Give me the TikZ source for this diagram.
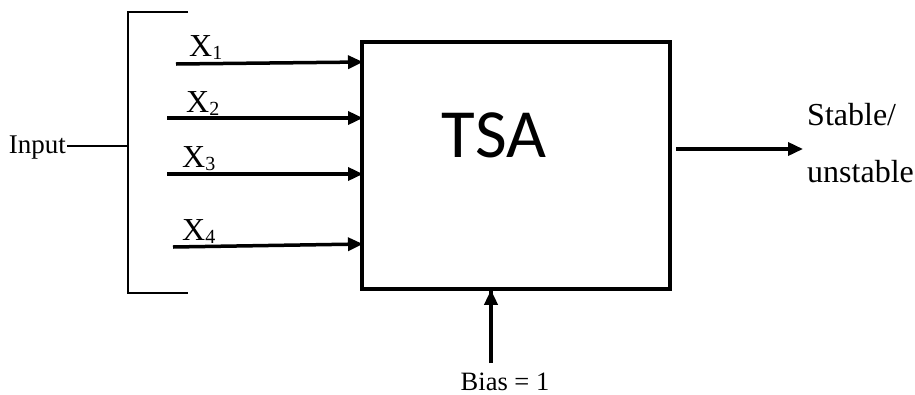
\documentclass[tikz,border=0pt]{standalone}
\usepackage{fontspec}
\setmainfont{Liberation Serif}
\newfontfamily\tsafont{Carlito}
\usetikzlibrary{arrows.meta}
\tikzset{
  arr/.style={line width=3.5pt, -{Triangle[length=15pt,width=13pt]}},
  thin/.style={line width=1.5pt},
  lbl/.style={inner sep=0pt, anchor=base west, font=\fontsize{32}{36}\selectfont},
  small/.style={inner sep=0pt, font=\fontsize{27}{30}\selectfont},
}
\newcommand{\xsub}[1]{X\raisebox{-3pt}{\fontsize{20}{20}\selectfont #1}}
\begin{document}
\begin{tikzpicture}[x=1pt,y=-1pt]
\useasboundingbox (0,0) rectangle (915,394);
% main box
\node[draw, line width=3.5pt, minimum width=308pt, minimum height=247pt, inner sep=0pt] (tsa) at (516,165.5) {};
\node[inner sep=0pt, anchor=base, font=\tsafont\fontsize{69}{72}\selectfont] (tsalbl) at (494,157) {TSA};
% bracket
\coordinate (btop) at (188,12);
\coordinate (bbot) at (188,293);
\coordinate (bmid) at (128,146);
\draw[thin] (btop) -- (128,12) -- (128,293) -- (bbot);
\node[small, anchor=base east] (input) at (66,153) {Input};
\draw[thin] (input.east |- bmid) ++(1,0) -- (bmid);
% inputs
\coordinate (x1s) at (176,64);  \coordinate (x1e) at (363,62);
\coordinate (x2s) at (167,118); \coordinate (x2e) at (363,118);
\coordinate (x3s) at (167,174); \coordinate (x3e) at (363,174);
\coordinate (x4s) at (173,247); \coordinate (x4e) at (363,244);
\draw[arr] (x1s) -- (x1e);
\draw[arr] (x2s) -- (x2e);
\draw[arr] (x3s) -- (x3e);
\draw[arr] (x4s) -- (x4e);
\node[lbl] (l1) at (189,56) {\xsub{1}};
\node[lbl] (l2) at (186,112) {\xsub{2}};
\node[lbl] (l3) at (182,167) {\xsub{3}};
\node[lbl] (l4) at (182,240) {\xsub{4}};
% output
\coordinate (outs) at (676,149);
\node[lbl, font=\fontsize{32}{36}\selectfont] (st1) at (807,125) {Stable/};
\node[lbl, font=\fontsize{32}{36}\selectfont] (st2) at (807,182) {unstable};
\draw[arr] (outs) -- (803,149) coordinate (oute);
% bias
\node[small, anchor=base, font=\fontsize{26.5}{30}\selectfont] (bias) at (505,390) {Bias = 1};
\coordinate (bs) at (491,363);
\draw[arr] (bs) -- (bs |- tsa.south) ++(0,-1);
\end{tikzpicture}
\end{document}
